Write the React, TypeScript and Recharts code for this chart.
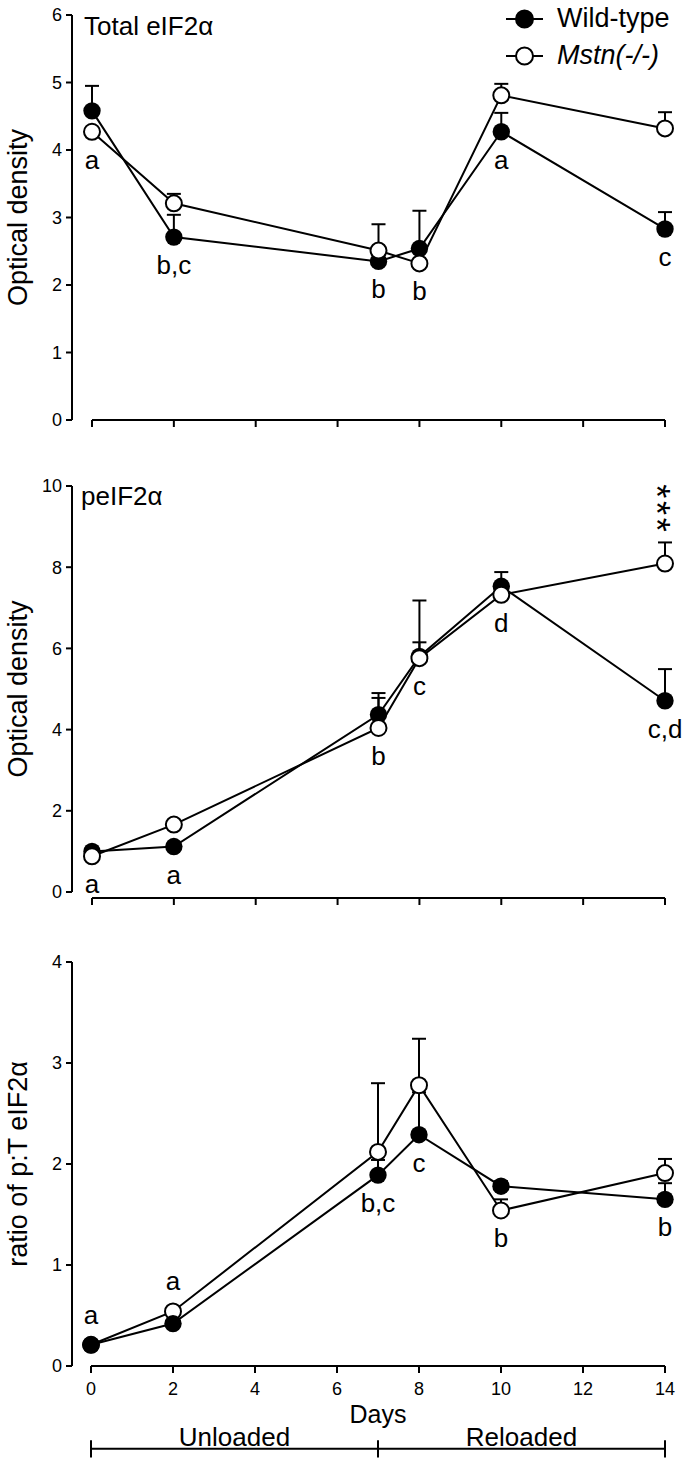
import React from "react";
import {
  LineChart,
  Line,
  XAxis,
  YAxis,
  ErrorBar,
  ReferenceLine,
  LabelList,
  Legend,
} from "recharts";

const FONT = '"Liberation Sans", Arial, Helvetica, sans-serif';
const INK = "#000";

// sampling days and axis ticks
const days = [0, 2, 7, 8, 10, 14];
const dayTicks = [0, 2, 4, 6, 8, 10, 12, 14];

// Total eIF2α (optical density), mean and upper SEM
const totalWt = [4.58, 2.71, 2.35, 2.54, 4.27, 2.83];
const totalWtSem = [0.37, 0.33, 0, 0.56, 0.28, 0.25];
const totalKo = [4.27, 3.21, 2.51, 2.32, 4.81, 4.32];
const totalKoSem = [0, 0.14, 0.39, 0, 0.17, 0.24];
const totalLetters = ["a", "b,c", "b", "b", "a", "c"];

// peIF2α (optical density)
const phosWt = [1.0, 1.12, 4.37, 5.8, 7.53, 4.71];
const phosWtSem = [0, 0, 0.53, 0.35, 0.35, 0.78];
const phosKo = [0.88, 1.66, 4.04, 5.76, 7.32, 8.09];
const phosKoSem = [0, 0, 0.74, 1.42, 0, 0.52];
const phosLetters = ["a", "a", "b", "c", "d", "c,d"];
const phosStars = ["", "", "", "", "", "***"];

// ratio of p:T eIF2α
const ratioWt = [0.21, 0.42, 1.89, 2.29, 1.78, 1.65];
const ratioWtSem = [0, 0, 0.15, 0.42, 0.05, 0.16];
const ratioKo = [0.21, 0.54, 2.12, 2.78, 1.54, 1.91];
const ratioKoSem = [0, 0, 0.68, 0.46, 0.11, 0.14];
const ratioLetters = ["a", "a", "b,c", "c", "b", "b"];
const ratioLetterSide = ["above", "above", "below", "below", "below", "below"];

const phases = [
  { name: "Unloaded", from: 0, to: 7 },
  { name: "Reloaded", from: 7, to: 14 },
];

const legendItems = [
  { label: "Wild-type", filled: true },
  { label: "Mstn(-/-)", filled: false },
];

type Row = {
  day: number;
  wt: number;
  wtErr: number[] | null;
  ko: number;
  koErr: number[] | null;
  letter: string;
  letterAt: number;
  side: string;
  stars: string;
  starAt: number | null;
};

function buildRows(
  wt: number[],
  wtSem: number[],
  ko: number[],
  koSem: number[],
  letters: string[],
  sides?: string[],
  stars?: string[]
): Row[] {
  return days.map((day, i) => {
    const side = sides ? sides[i] : "below";
    return {
      day,
      wt: wt[i],
      wtErr: wtSem[i] > 0 ? [0, wtSem[i]] : null,
      ko: ko[i],
      koErr: koSem[i] > 0 ? [0, koSem[i]] : null,
      letter: letters[i],
      letterAt: side === "below" ? Math.min(wt[i], ko[i]) : Math.max(wt[i], ko[i]),
      side,
      stars: stars ? stars[i] : "",
      starAt: stars && stars[i] ? ko[i] + koSem[i] : null,
    };
  });
}

const totalRows = buildRows(totalWt, totalWtSem, totalKo, totalKoSem, totalLetters);
const phosRows = buildRows(phosWt, phosWtSem, phosKo, phosKoSem, phosLetters, undefined, phosStars);
const ratioRows = buildRows(ratioWt, ratioWtSem, ratioKo, ratioKoSem, ratioLetters, ratioLetterSide);

const pos = (props: any) => ({
  x: props.x ?? props.viewBox?.x,
  y: props.y ?? props.viewBox?.y,
});

function makeDayTick(drop: number, showLabel: boolean) {
  return (props: any) => {
    const { x, y, payload } = props;
    return (
      <g>
        <line x1={x} x2={x} y1={y + drop} y2={y + drop + 7} stroke={INK} strokeWidth={2} />
        {showLabel && (
          <text x={x} y={y + 29} textAnchor="middle" fontSize={18} fill={INK} fontFamily={FONT}>
            {payload.value}
          </text>
        )}
      </g>
    );
  };
}

function makeLetter(rows: Row[]) {
  return (props: any) => {
    const { value, index } = props;
    if (!value) return null;
    const { x, y } = pos(props);
    const below = rows[index]?.side !== "above";
    return (
      <text
        x={x}
        y={below ? y + 37 : y - 21}
        textAnchor="middle"
        fontSize={26}
        fill={INK}
        fontFamily={FONT}
      >
        {value}
      </text>
    );
  };
}

// significance asterisks stacked vertically: one text run turned 90°
const renderStars = (props: any) => {
  const { value } = props;
  if (!value) return null;
  const { x, y } = pos(props);
  const px = x - 21;
  const py = y - 33;
  return (
    <text
      x={px}
      y={py}
      transform={`rotate(90, ${px}, ${py})`}
      textAnchor="middle"
      fontSize={36}
      letterSpacing={2.7}
      fill={INK}
      fontFamily={FONT}
    >
      {value}
    </text>
  );
};

const renderLegend = () => (
  <div style={{ fontFamily: FONT, fontSize: 27, color: INK }}>
    {legendItems.map((item) => (
      <div key={item.label} style={{ display: "flex", alignItems: "center", height: 37 }}>
        <svg width={40} height={20}>
          <line x1={2} x2={39} y1={10} y2={10} stroke={INK} strokeWidth={2} />
          <circle
            cx={20.5}
            cy={10}
            r={8.5}
            fill={item.filled ? INK : "#fff"}
            stroke={INK}
            strokeWidth={2}
          />
        </svg>
        <span style={{ marginLeft: 13, fontStyle: item.filled ? "normal" : "italic" }}>
          {item.label}
        </span>
      </div>
    ))}
  </div>
);

type PanelProps = {
  rows: Row[];
  height: number;
  plotTop: number;
  xAxisHeight: number;
  yMax: number;
  yTicks: number[];
  yLabel: string;
  axisBase: number;
  tickDrop: number;
  showDayLabels: boolean;
  padLeft: number;
  wtOnTop?: boolean;
  children?: React.ReactNode;
};

function Panel(p: PanelProps) {
  // upper SEM bars on their own invisible lines, drawn under the markers
  const bars = ["wt", "ko"].map((k) => (
    <Line
      key={`${k}-bar`}
      dataKey={k}
      stroke="none"
      dot={false}
      activeDot={false}
      legendType="none"
      isAnimationActive={false}
    >
      <ErrorBar dataKey={`${k}Err`} direction="y" width={7} stroke={INK} strokeWidth={2} />
    </Line>
  ));
  const wtLine = (
    <Line
      key="wt"
      dataKey="wt"
      stroke={INK}
      strokeWidth={2}
      dot={{ r: 8.7, fill: INK, stroke: "none" }}
      activeDot={false}
      isAnimationActive={false}
    />
  );
  const koLine = (
    <Line
      key="ko"
      dataKey="ko"
      stroke={INK}
      strokeWidth={2}
      dot={{ r: 8, fill: "#fff", stroke: INK, strokeWidth: 2 }}
      activeDot={false}
      isAnimationActive={false}
    />
  );
  return (
    <LineChart
      width={686}
      height={p.height}
      data={p.rows}
      margin={{ top: p.plotTop, right: 21, left: 12, bottom: 0 }}
      style={{ fontFamily: FONT }}
    >
      <XAxis
        dataKey="day"
        type="number"
        domain={[0, 14]}
        ticks={dayTicks}
        padding={{ left: p.padLeft, right: 0 }}
        height={p.xAxisHeight}
        axisLine={false}
        tickLine={false}
        tickSize={0}
        tickMargin={0}
        tick={makeDayTick(p.tickDrop, p.showDayLabels)}
        interval={0}
      />
      <YAxis
        type="number"
        domain={[0, p.yMax]}
        ticks={p.yTicks}
        width={60}
        interval={0}
        axisLine={{ stroke: INK, strokeWidth: 2 }}
        tickLine={{ stroke: INK, strokeWidth: 2 }}
        tickSize={6}
        tickMargin={4}
        tick={{ fill: INK, fontSize: 18, fontFamily: FONT }}
        label={{
          value: p.yLabel,
          angle: -90,
          position: "insideLeft",
          offset: 5,
          fontSize: 27,
          fill: INK,
          fontFamily: FONT,
          style: { textAnchor: "middle" },
        }}
      />
      <ReferenceLine
        segment={[
          { x: 0, y: p.axisBase },
          { x: 14, y: p.axisBase },
        ]}
        stroke={INK}
        strokeWidth={2}
        ifOverflow="visible"
      />
      {bars}
      {p.wtOnTop ? [koLine, wtLine] : [wtLine, koLine]}
      <Line
        dataKey="letterAt"
        stroke="none"
        dot={false}
        activeDot={false}
        legendType="none"
        isAnimationActive={false}
      >
        <LabelList dataKey="letter" content={makeLetter(p.rows)} />
      </Line>
      <Line
        dataKey="starAt"
        stroke="none"
        dot={false}
        activeDot={false}
        legendType="none"
        isAnimationActive={false}
      >
        <LabelList dataKey="stars" content={renderStars} />
      </Line>
      {p.children}
    </LineChart>
  );
}

const PHASE_Y = -0.82;
const PHASE_TICK = 0.085;

export default function App() {
  const titleStyle: React.CSSProperties = {
    position: "absolute",
    fontFamily: FONT,
    fontSize: 26,
    lineHeight: "26px",
    color: INK,
    whiteSpace: "nowrap",
  };
  return (
    <div
      style={{
        position: "absolute",
        left: 0,
        top: 0,
        width: 686,
        height: 1465,
        background: "#fff",
      }}
    >
      <div style={{ position: "absolute", left: 0, top: 0 }}>
        <Panel
          rows={totalRows}
          height={450}
          plotTop={15}
          xAxisHeight={30}
          yMax={6}
          yTicks={[0, 1, 2, 3, 4, 5, 6]}
          yLabel="Optical density"
          axisBase={0}
          tickDrop={0}
          showDayLabels={false}
          padLeft={20}
        >
          <Legend
            layout="horizontal"
            verticalAlign="middle"
            align="center"
            content={renderLegend}
            wrapperStyle={{ left: 504, top: 0, width: 182, height: 74 }}
          />
        </Panel>
      </div>
      <div style={{ ...titleStyle, left: 84, top: 13 }}>Total eIF2α</div>

      <div style={{ position: "absolute", left: 0, top: 450 }}>
        <Panel
          rows={phosRows}
          height={490}
          plotTop={36}
          xAxisHeight={48}
          yMax={10}
          yTicks={[0, 2, 4, 6, 8, 10]}
          yLabel="Optical density"
          axisBase={-0.148}
          tickDrop={6}
          showDayLabels={false}
          padLeft={20}
        />
      </div>
      <div style={{ ...titleStyle, left: 81, top: 483 }}>peIF2α</div>

      <div style={{ position: "absolute", left: 0, top: 940 }}>
        <Panel
          rows={ratioRows}
          height={525}
          plotTop={22}
          xAxisHeight={99}
          yMax={4}
          yTicks={[0, 1, 2, 3, 4]}
          yLabel="ratio of p:T eIF2α"
          axisBase={0}
          tickDrop={0}
          showDayLabels={true}
          padLeft={19}
          wtOnTop
        >
          <ReferenceLine
            segment={[
              { x: 0, y: 0 },
              { x: 14, y: 0 },
            ]}
            stroke="none"
            ifOverflow="visible"
            label={{ value: "Days", position: "bottom", offset: 39, fontSize: 25, fill: INK, fontFamily: FONT }}
          />
          {phases.map((ph) => (
            <ReferenceLine
              key={ph.name}
              segment={[
                { x: ph.from, y: PHASE_Y },
                { x: ph.to, y: PHASE_Y },
              ]}
              stroke={INK}
              strokeWidth={2}
              ifOverflow="visible"
              label={{ value: ph.name, position: "top", offset: 3, fontSize: 26, fill: INK, fontFamily: FONT }}
            />
          ))}
          {[0, 7, 14].map((d) => (
            <ReferenceLine
              key={`edge-${d}`}
              segment={[
                { x: d, y: PHASE_Y - PHASE_TICK },
                { x: d, y: PHASE_Y + PHASE_TICK },
              ]}
              stroke={INK}
              strokeWidth={2}
              ifOverflow="visible"
            />
          ))}
        </Panel>
      </div>
    </div>
  );
}
